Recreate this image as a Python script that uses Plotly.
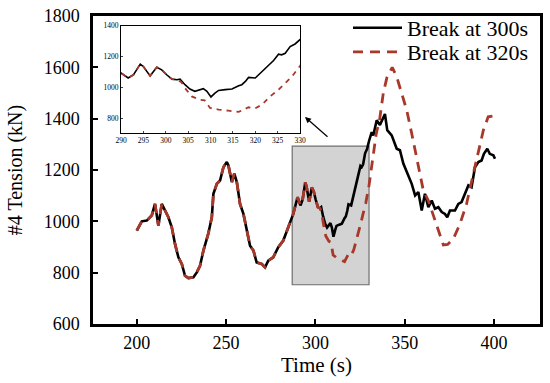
import plotly.graph_objects as go

# Shared portion (both cases identical before break)
shared_t = [200, 202.8, 205.6, 208.4, 210.2, 212.1, 214, 215.8, 217.7, 219.6, 221.4, 223.3, 225.2, 227,
            228.9, 231.7, 233.6, 235.4, 237.3, 240, 242, 242.9, 244.8, 246.6, 248.5, 250.4, 251.3, 253.2,
            254.6, 256, 257.8, 259.7, 261.6, 263.4, 265.3, 267.1, 269.9, 271.8, 273.6, 276.4, 279.2, 282,
            284.8, 287.6, 290, 291.6, 292.8, 294.3, 295, 296.5, 298, 299.1, 300.2, 301.4, 302.5]
shared_v = [964, 1000, 1003, 1023, 1068, 984, 1068, 1042, 1016, 977, 912, 860, 834, 788,
            779, 782, 801, 827, 886, 951, 1016, 1107, 1146, 1159, 1211, 1231, 1218, 1153,
            1186, 1153, 1068, 1029, 964, 905, 886, 840, 834, 821, 847, 860, 899, 925,
            977, 1029, 1094, 1062, 1083, 1152, 1136, 1076, 1132, 1115, 1083, 1055, 1051]

# Break at 300s continuation
t300 = [303.2, 304.3, 305.4, 306.5, 307.2, 308.4, 309.2, 310.1, 311, 311.8, 313.3, 314.8, 316.3, 317,
        317.8, 318.5, 320, 321.1, 322.2, 323.3, 324.1, 325.2, 325.9, 326.7, 327.8, 328.9, 330, 331.5,
        332.4, 334.3, 336.1, 337.7, 338.9, 340.2, 342.7, 345.5, 347.3, 349.2, 352, 353.9, 355.8, 357.6,
        359.5, 361.3, 363.2, 365.1, 366.9, 368.8, 370.7, 372.5, 373.8, 375.3, 378.1, 380, 381.8, 383.7,
        385.6, 387.4, 389.3, 391.2, 393, 394.3, 396.2, 397.6, 399.6, 400.5]
v300 = [1055, 1019, 991, 976, 983, 993, 976, 940, 965, 982, 987, 991, 1012, 1019,
        1040, 1066, 1062, 1094, 1126, 1158, 1175, 1216, 1212, 1222, 1265, 1282, 1313, 1348,
        1335, 1394, 1375, 1400, 1418, 1355, 1335, 1283, 1277, 1225, 1179, 1146, 1101, 1114,
        1042, 1107, 1055, 1081, 1049, 1055, 1036, 1029, 1016, 1042, 1042, 1068, 1075, 1107,
        1140, 1133, 1211, 1231, 1237, 1263, 1283, 1263, 1257, 1244]

# Break at 320s continuation
t320 = [303.5, 304.3, 305.8, 307.6, 308.7, 309.9, 311.8, 314, 316.3, 318.5, 320, 321.5, 323.3, 325.2,
        326.7, 328.2, 330, 332, 334, 336, 338, 340, 343, 345.5, 348.3, 351.1, 353.9, 355.8, 358.5,
        360.4, 363.2, 366, 368.8, 371.6, 374, 377.2, 380.9, 384.6, 388.4, 391.2, 394, 396.7, 399.6]
v320 = [1035, 997, 943, 922, 918, 869, 858, 851, 843, 873, 867, 890, 943, 987,
        1030, 1072, 1140, 1250, 1340, 1400, 1500, 1560, 1600, 1563, 1498, 1433, 1342, 1277, 1186,
        1120, 1081, 1025, 962, 908, 910, 932, 990, 1068, 1186, 1277, 1355, 1407, 1410]

x_ticks = [200, 250, 300, 350, 400]
y_ticks = [600, 800, 1000, 1200, 1400, 1600, 1800]
inset_x_ticks = [290, 295, 300, 305, 310, 315, 320, 325, 330]
inset_y_ticks = [800, 1000, 1200, 1400]

x300 = shared_t + t300
y300 = shared_v + v300
x320 = shared_t + t320
y320 = shared_v + v320

BLACK = "#000000"
RED = "#A8382A"
FONT = "Liberation Serif, Times New Roman, serif"

W, H = 550, 383
L, R, T, B = 93, 10, 16, 59
pw, ph = W - L - R, H - T - B

def px(x):
    return (x - L) / pw

def py(y):
    return (H - B - y) / ph

fig = go.Figure()
fig.add_trace(go.Scatter(x=x300, y=y300, mode="lines", name="Break at 300s", legend="legend",
                         line=dict(color=BLACK, width=2.6)))
fig.add_trace(go.Scatter(x=x320, y=y320, mode="lines", name="Break at 320s", legend="legend2",
                         line=dict(color=RED, width=2.8, dash="10px,7px")))
# inset
fig.add_trace(go.Scatter(x=x300, y=y300, mode="lines", showlegend=False,
                         line=dict(color=BLACK, width=1.6), xaxis="x2", yaxis="y2"))
fig.add_trace(go.Scatter(x=x320, y=y320, mode="lines", showlegend=False,
                         line=dict(color=RED, width=1.8, dash="5px,5px"), xaxis="x2", yaxis="y2"))

fig.add_shape(type="rect", xref="x", yref="y", x0=287, x1=330, y0=753, y1=1293,
              fillcolor="#d3d3d3", line=dict(color="#6e6e6e", width=1.2), layer="below")

fig.add_annotation(xref="paper", yref="paper", x=px(305), y=py(117), ax=24, ay=21,
                   text="", showarrow=True, arrowhead=2, arrowsize=1, arrowwidth=1.2,
                   arrowcolor="black")

leg_common = dict(xanchor="left", yanchor="middle", font=dict(size=22, family=FONT),
                  bgcolor="rgba(0,0,0,0)", itemwidth=49)

fig.update_layout(
    width=W, height=H,
    margin=dict(l=L, r=R, t=T, b=B, autoexpand=False),
    paper_bgcolor="white", plot_bgcolor="white",
    font=dict(family=FONT, color="black"),
    showlegend=True,
    legend=dict(x=px(348), y=py(28), **leg_common),
    legend2=dict(x=px(348), y=py(52), **leg_common),
    xaxis=dict(range=[175.5, 425.7], tickvals=x_ticks, showgrid=False, zeroline=False,
               automargin=False,
               showline=True, linecolor="black", linewidth=2.5, mirror=True,
               ticks="inside", ticklen=5, tickwidth=2, tickcolor="black", ticklabelstandoff=1,
               tickfont=dict(size=18, family=FONT, color="black"),
               title=dict(text="Time (s)", font=dict(size=21, family=FONT), standoff=4)),
    yaxis=dict(range=[600, 1800], tickvals=y_ticks, showgrid=False, zeroline=False,
               automargin=False,
               showline=True, linecolor="black", linewidth=2.5, mirror=True,
               ticks="inside", ticklen=5, tickwidth=2, tickcolor="black", ticklabelstandoff=7,
               tickfont=dict(size=18, family=FONT, color="black"),
               title=dict(text="#4 Tension (kN)", font=dict(size=20, family=FONT), standoff=16)),
    xaxis2=dict(domain=[px(121), px(300)], anchor="y2", range=[290, 330], tickvals=inset_x_ticks,
                automargin=False,
                showgrid=False, zeroline=False, showline=True, linecolor="black", linewidth=1,
                mirror=True, ticks="inside", ticklen=2,
                tickfont=dict(size=7.5, family=FONT, color="black")),
    yaxis2=dict(domain=[py(133.3), py(25.7)], anchor="x2", range=[705, 1400], tickvals=inset_y_ticks,
                automargin=False,
                showgrid=False, zeroline=False, showline=True, linecolor="black", linewidth=1,
                mirror=True, ticks="inside", ticklen=2,
                tickfont=dict(size=7.5, family=FONT, color="black")),
)

fig.write_html("out.html", config={"displayModeBar": False},
               post_script="document.body.style.margin='0';")
